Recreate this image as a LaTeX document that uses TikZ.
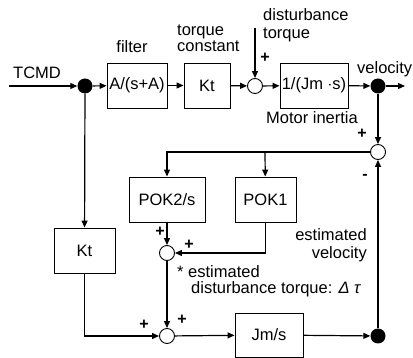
\documentclass[tikz,border=0pt]{standalone}
\usepackage{fontspec}
\setmainfont{Liberation Sans}
\usetikzlibrary{arrows.meta,positioning}
\tikzset{
  blk/.style={draw,line width=0.9pt,minimum height=45pt,inner sep=0pt,font=\fontsize{16.5}{18}\selectfont},
  sumj/.style={draw,circle,line width=0.9pt,minimum size=15pt,inner sep=0pt},
  dotj/.style={fill=black,circle,minimum size=15pt,inner sep=0pt},
  lbl/.style={inner sep=0pt,font=\fontsize{16.5}{18}\selectfont},
  sgn/.style={inner sep=0pt,font=\fontsize{16}{18}\selectfont\bfseries},
  conn/.style={line width=1.2pt,-{Triangle[length=7pt,width=6pt]}},
  line/.style={line width=1.2pt}
}
\begin{document}
\begin{tikzpicture}[x=1pt,y=-1pt]
\useasboundingbox (0,0) rectangle (413,358);
% nodes
\coordinate (in) at (9,86);
\node[dotj] (d1) at (85,86) {};
\node[blk,minimum width=60pt] (filt) at (137,85.5) {A/(s+A)};
\node[blk,minimum width=46pt] (kt1) at (207,85.5) {Kt};
\node[sumj] (s1) at (255,86) {};
\node[blk,minimum width=68pt] (jm) at (314,85.5) {1/(Jm $\cdot$s)};
\node[dotj] (d2) at (378,86) {};
\coordinate (out) at (405,86);
\coordinate (dist) at (255,28);
\node[sumj] (s4) at (378,152) {};
\coordinate (c2) at (265,152);
\node[blk,minimum width=76pt] (pok2) at (167,199.5) {POK2/s};
\node[blk,minimum width=61pt] (pok1) at (265.5,199.5) {POK1};
\node[sumj] (s2) at (167,253) {};
\node[blk,minimum width=61pt] (kt2) at (84.5,250.5) {Kt};
\node[sumj] (s3) at (167,336) {};
\node[blk,minimum width=68pt,minimum height=44pt] (jms) at (269,335) {Jm/s};
\node[dotj] (d3) at (378,336) {};
% labels
\node[lbl] (tcmd) at (37,73) {TCMD};
\node[lbl] (lfilt) at (132,47) {filter};
\node[lbl,anchor=north west,align=left,font=\fontsize{16.5}{15.5}\selectfont] (ltq) at (177,25) {torque\\constant};
\node[lbl,anchor=north west,align=left,font=\fontsize{16.5}{18}\selectfont] (ldist) at (263,8) {disturbance\\torque};
\node[sgn] (p1) at (265,58) {+};
\node[lbl] (lmot) at (312,118) {Motor inertia};
\node[lbl,anchor=west] (lvel) at (357,69) {velocity};
\node[sgn] (p2) at (362,134) {+};
\node[sgn] (m1) at (365,177) {-};
\node[sgn] (p3) at (160,232) {+};
\node[sgn] (p4) at (189,245) {+};
\node[sgn] (p5) at (182,320) {+};
\node[sgn] (p6) at (144,325) {+};
\node[lbl,anchor=north west,align=left,font=\fontsize{16.5}{16.5}\selectfont] (lest) at (177,265) {* estimated\\\hspace*{14pt}disturbance torque: {\itshape Δ τ}};
\node[lbl,anchor=north east,align=right,font=\fontsize{16.5}{18}\selectfont] (lev) at (367,228) {estimated\\velocity};
% connectors
\draw[conn] (in) -- (d1);
\draw[conn] (d1) -- (filt);
\draw[conn] (filt) -- (kt1);
\draw[conn] (kt1) -- (s1);
\draw[conn] (s1) -- (jm);
\draw[conn] (jm) -- (d2);
\draw[conn] (d2) -- (out);
\draw[conn] (dist) -- (s1);
\draw[conn] (d2) -- (s4);
\draw[conn] (s4.west) -| (pok2.north);
\draw[conn] (c2) -- (pok1);
\draw[conn] (pok2) -- (s2);
\draw[conn] (pok1.south) |- (s2.east);
\draw[conn] (s2) -- (s3);
\draw[conn] (d1) -- (kt2);
\draw[conn] (kt2.south) |- (s3.west);
\draw[conn] (s3) -- (jms);
\draw[conn] (jms) -- (d3);
\draw[conn] (d3) -- (s4);
\end{tikzpicture}
\end{document}
